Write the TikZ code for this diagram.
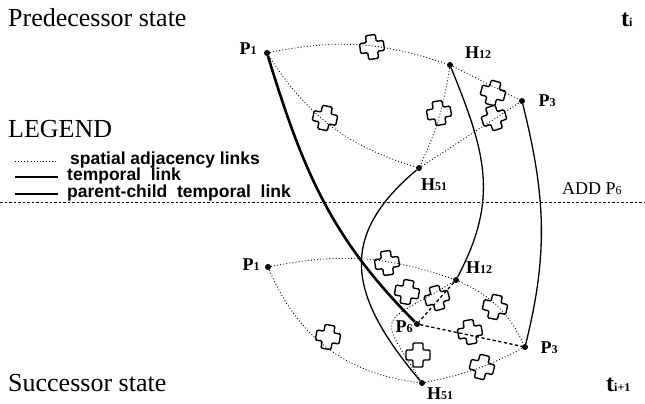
\documentclass[tikz,border=0pt]{standalone}
\usepackage{fontspec}
\setmainfont{Liberation Serif}
\newfontfamily\legfont{Liberation Sans}
\newcommand{\sm}[1]{{\fontsize{12}{12}\selectfont #1}}
\begin{document}
\begin{tikzpicture}[x=1pt,y=1pt,
  dot/.style={circle,fill,inner sep=0pt,minimum size=6pt},
  lab/.style={font=\fontsize{18}{18}\selectfont\bfseries, inner sep=0pt},
  title/.style={font=\fontsize{26}{26}\selectfont, inner sep=0pt, anchor=base west},
  leg/.style={font=\legfont\fontsize{17.5}{17.5}\selectfont\bfseries, inner sep=0pt, anchor=base west},
  spat/.style={line width=0.9pt, dash pattern=on 0.9pt off 2.2pt},
  newspat/.style={line width=1.3pt, dash pattern=on 3.2pt off 2.5pt},
  temp/.style={line width=1.3pt},
  pc/.style={line width=2.6pt},
  xcross/.pic={\draw[line width=1.4pt,fill=white,rounded corners=1.2pt]
     (-5,12)--(5,12)--(5,5)--(12,5)--(12,-5)--(5,-5)--(5,-12)--(-5,-12)
     --(-5,-5)--(-12,-5)--(-12,5)--(-5,5)--cycle;}
]
\path[use as bounding box] (0,0) rectangle (645,404);

% titles
\node[title] (pred) at (8,377) {Predecessor state};
\node[title] (succ) at (8,12) {Successor state};
\node[font=\fontsize{24}{24}\selectfont\bfseries, inner sep=0pt, anchor=base west] (ti) at (621,377) {t\sm{i}};
\node[font=\fontsize{24}{24}\selectfont\bfseries, inner sep=0pt, anchor=base west] (ti1) at (606,12) {t\sm{i+1}};

% legend
\node[title] (legend) at (8,266) {LEGEND};
\coordinate (l1a) at (15,243); \coordinate (l1b) at (58,243);
\coordinate (l2a) at (15,227); \coordinate (l2b) at (58,227);
\coordinate (l3a) at (15,210); \coordinate (l3b) at (58,210);
\draw[spat] (l1a) -- (l1b);
\draw[temp] (l2a) -- (l2b);
\draw[pc] (l3a) -- (l3b);
\node[leg] (t1) at (70,239) {spatial adjacency links};
\node[leg] (t2) at (67,223) {temporal\ \ link};
\node[leg] (t3) at (67,206) {parent-child\ \ temporal\ \ link};

% separation line
\coordinate (sepL) at (0,201); \coordinate (sepR) at (645,201);
\draw[line width=1pt, dash pattern=on 2.5pt off 2pt] (sepL) -- (sepR);
\node[font=\fontsize{18}{18}\selectfont, inner sep=0pt, anchor=base west] (add) at (562,209) {ADD P\sm{6}};

% top nodes
\node[dot] (tP1) at (267,351) {};
\node[dot] (tH12) at (450,339) {};
\node[dot] (tP3) at (522,303) {};
\node[dot] (tH51) at (419,236) {};
% bottom nodes
\node[dot] (bP1) at (268,137) {};
\node[dot] (bH12) at (456,124) {};
\node[dot] (bP3) at (525,57) {};
\node[dot] (bH51) at (422,21) {};
\node[dot] (bP6) at (417,80) {};

% labels
\node[lab] (ltP1) at (248,355) {P\sm{1}};
\node[lab] (ltH12) at (478,351) {H\sm{12}};
\node[lab] (ltP3) at (547,303) {P\sm{3}};
\node[lab] (ltH51) at (434,219) {H\sm{51}};
\node[lab] (lbP1) at (251,139) {P\sm{1}};
\node[lab] (lbH12) at (479,136) {H\sm{12}};
\node[lab] (lbP6) at (404,77) {P\sm{6}};
\node[lab] (lbP3) at (549,56) {P\sm{3}};
\node[lab] (lbH51) at (440,10) {H\sm{51}};

% crosses
\pic[rotate=8] at (372,357) {xcross};
\pic[rotate=-12] at (325,286) {xcross};
\pic[rotate=10] at (439,291) {xcross};
\pic[rotate=-15] at (493,311) {xcross};
\pic[rotate=18] at (494,286) {xcross};
\pic[rotate=8] at (387,141) {xcross};
\pic[rotate=-10] at (407,112) {xcross};
\pic[rotate=15] at (437,106) {xcross};
\pic[rotate=-12] at (495,97) {xcross};
\pic[rotate=10] at (470,72) {xcross};
\pic[rotate=0] at (418,49) {xcross};
\pic[rotate=-14] at (482,37) {xcross};
\pic[rotate=-10] at (328,67) {xcross};

% top spatial links
\draw[spat] (tP1) to[bend left=15] (tH12);
\draw[spat] (tP1) to[bend right=20] (tH51);
\draw[spat] (tH12) to[bend left=8] (tH51);
\draw[spat] (tH12) -- (tP3);
\draw[spat] (tH51) -- (tP3);

% bottom spatial links
\draw[spat] (bP1) to[bend left=15] (bH12);
\draw[spat] (bP1) to[bend right=30] (bH51);
\draw[spat] (bH12) to[bend left=20] (bP3);
\draw[spat] (bP3) to[bend left=8] (bH51);
\draw[spat] (bH12) to[out=212,in=122,looseness=2.1] (bH51);
\draw[newspat] (bH12) -- (bP6);
\draw[newspat] (bP6) -- (bP3);

% temporal links
\draw[temp] (tH12) to[out=-68,in=62,looseness=1.1] (bH12);
\draw[temp] (tP3) to[out=-76,in=76] (bP3);
\draw[temp] (tH51) to[out=-140,in=130,looseness=1.3] (bH51);
\draw[pc] (tP1) to[out=-73,in=135] (bP6);
\end{tikzpicture}
\end{document}
